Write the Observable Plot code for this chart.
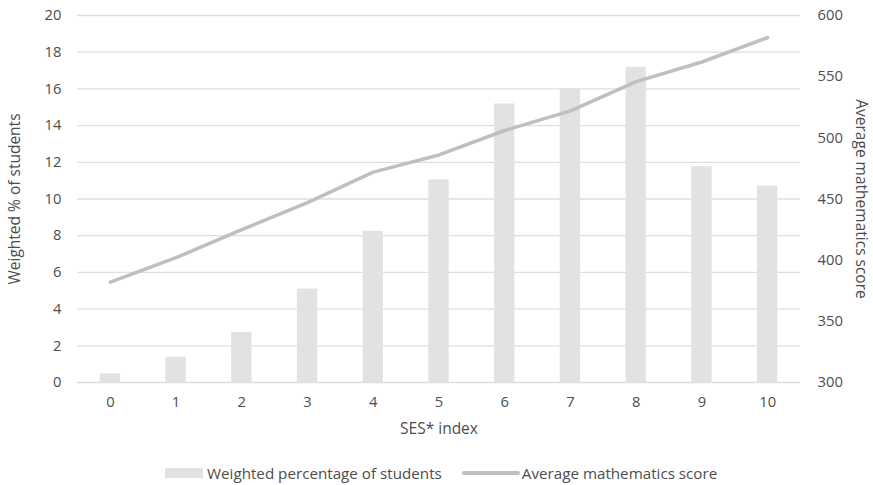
<!DOCTYPE html>
<html>
<head>
<meta charset="utf-8">
<script src="https://cdn.jsdelivr.net/npm/d3@7"></script>
<script src="https://cdn.jsdelivr.net/npm/@observablehq/plot@0.6"></script>
<style>
  body { margin: 0; background: #fff; font-family: "Open Sans", sans-serif; }
  #legend { display: flex; justify-content: flex-start; align-items: center; height: 24px; margin-top: 6px; padding-left: 165px; color: #4d4d4d; font-size: 15.2px; }
  .item { display: flex; align-items: center; }
  .sw-bar { width: 38px; height: 10px; background: #e2e2e2; margin-right: 4px; }
  .sw-line { width: 58px; height: 3.5px; background: #bfbfbf; margin-right: 2px; border-radius: 2px; }
</style>
</head>
<body>
<div id="chart"></div>
<div id="legend">
  <div class="item" style="margin-right:20px"><div class="sw-bar"></div><span>Weighted percentage of students</span></div>
  <div class="item"><div class="sw-line"></div><span>Average mathematics score</span></div>
</div>
<script>
const sesIndex = [0, 1, 2, 3, 4, 5, 6, 7, 8, 9, 10];
const weightedPct = [0.47, 1.38, 2.73, 5.09, 8.24, 11.04, 15.18, 15.98, 17.18, 11.76, 10.71];
const mathScore = [382, 402, 425, 447, 472, 486, 506, 522, 546, 562, 582];
const leftTicks = [0, 2, 4, 6, 8, 10, 12, 14, 16, 18, 20];
const rightTicks = [300, 350, 400, 450, 500, 550, 600];
const xLabel = "SES* index";
const yLeftLabel = "Weighted % of students";
const yRightLabel = "Average mathematics score";

// right-axis mapping: score 300..600 onto the left scale 0..20
const toLeft = s => (s - 300) / 15;
const data = sesIndex.map((s, i) => ({ses: s, pct: weightedPct[i], score: mathScore[i]}));

const textColor = "#4d4d4d";
const chart = Plot.plot({
  width: 873,
  height: 455,
  marginTop: 15,
  marginBottom: 73,
  marginLeft: 77,
  marginRight: 73,
  style: {fontFamily: "'Open Sans', sans-serif", fontSize: "14.8px", color: textColor, background: "#fff"},
  x: {type: "band", domain: sesIndex, paddingInner: 0.69, paddingOuter: 0.345, round: false},
  y: {domain: [0, 20]},
  marks: [
    Plot.ruleY(leftTicks, {stroke: "#dedede", strokeWidth: 1.3}),
    Plot.barY(data, {x: "ses", y: "pct", fill: "#e2e2e2"}),
    Plot.line(data, {x: "ses", y: d => toLeft(d.score), stroke: "#bfbfbf", strokeWidth: 3.5, strokeLinecap: "round", strokeLinejoin: "round"}),
    Plot.axisX({tickSize: 0, tickPadding: 14, label: null, fill: textColor}),
    Plot.axisY(leftTicks, {anchor: "left", tickSize: 0, tickPadding: 16, label: null, fill: textColor}),
    Plot.axisY(rightTicks.map(toLeft), {anchor: "right", tickSize: 0, tickPadding: 17, label: null, fill: textColor, tickFormat: d => String(Math.round(d * 15 + 300))}),
    Plot.text([xLabel], {frameAnchor: "bottom", dy: 51, fill: textColor, fontSize: 15.5, textAnchor: "middle"}),
    Plot.text([yLeftLabel], {frameAnchor: "left", rotate: -90, dx: -62, fill: textColor, fontSize: 15.5, textAnchor: "middle"}),
    Plot.text([yRightLabel], {frameAnchor: "right", rotate: 90, dx: 60, fill: textColor, fontSize: 15.5, textAnchor: "middle"})
  ]
});
document.getElementById("chart").appendChild(chart);
</script>
</body>
</html>
